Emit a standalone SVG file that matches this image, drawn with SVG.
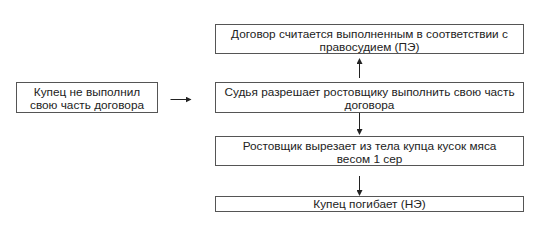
<svg xmlns="http://www.w3.org/2000/svg" width="546" height="231" viewBox="0 0 546 231">
<defs>
<marker id="ah" markerWidth="6" markerHeight="6" refX="5" refY="3" orient="auto" markerUnits="userSpaceOnUse">
<path d="M0,0 L6,3 L0,6 Z" fill="#222"/>
</marker>
<style>
.box{fill:#fff;stroke:#555;stroke-width:1}
.t{font-family:"Liberation Sans",Arial,sans-serif;font-size:11.8px;fill:#222;text-anchor:middle}
.c{stroke:#222;stroke-width:1;fill:none;marker-end:url(#ah)}
</style>
</defs>
<rect width="546" height="231" fill="#fff"/>
<g id="n1">
<rect class="box" x="16.5" y="82.5" width="141" height="30"/>
<text class="t" x="87" y="95.5">Купец не выполнил</text>
<text class="t" x="87" y="108.5">свою часть договора</text>
</g>
<g id="n2">
<rect class="box" x="215.5" y="24.5" width="308" height="29"/>
<text class="t" x="369.5" y="37.5">Договор считается выполненным в соответствии с</text>
<text class="t" x="369.5" y="50.5">правосудием (ПЭ)</text>
</g>
<g id="n3">
<rect class="box" x="215.5" y="82.5" width="308" height="30"/>
<text class="t" x="369.5" y="95.5">Судья разрешает ростовщику выполнить свою часть</text>
<text class="t" x="369.5" y="108.5">договора</text>
</g>
<g id="n4">
<rect class="box" x="215.5" y="136.5" width="308" height="29"/>
<text class="t" x="369.5" y="149.5">Ростовщик вырезает из тела купца кусок мяса</text>
<text class="t" x="369.5" y="162.5">весом 1 сер</text>
</g>
<g id="n5">
<rect class="box" x="215.5" y="196.5" width="308" height="15"/>
<text class="t" x="369.5" y="208">Купец погибает (НЭ)</text>
</g>
<g id="connectors">
<line class="c" x1="170.5" y1="99.5" x2="190.5" y2="99.5"/>
<line class="c" x1="359.5" y1="78" x2="359.5" y2="59"/>
<line class="c" x1="359.5" y1="113" x2="359.5" y2="134"/>
<line class="c" x1="359.5" y1="176" x2="359.5" y2="195"/>
</g>
</svg>
